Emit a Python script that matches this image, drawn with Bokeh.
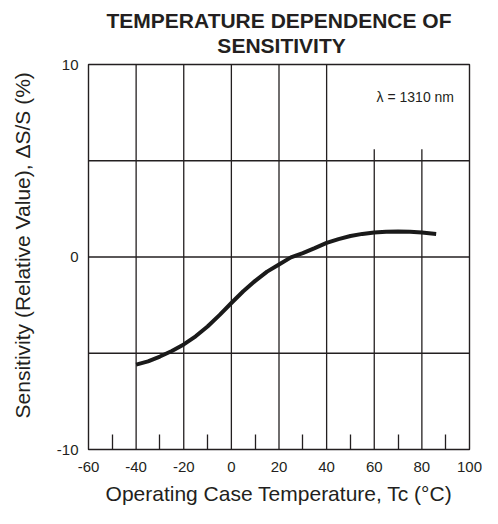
from bokeh.plotting import figure
from bokeh.models import FixedTicker, Range1d
from bokeh.core.properties import value
from bokeh.embed import file_html
from bokeh.resources import INLINE

# ---- data ----
temps = [-40, -35, -30, -25, -20, -15, -10, -5, 0, 5, 10, 15, 20, 25,
         30, 35, 40, 45, 50, 55, 60, 65, 70, 75, 80, 86]
sens = [-5.59, -5.42, -5.17, -4.88, -4.54, -4.12, -3.61, -3.02, -2.39, -1.78,
        -1.24, -0.76, -0.39, -0.02, 0.20, 0.46, 0.73, 0.93, 1.09, 1.20,
        1.27, 1.31, 1.32, 1.31, 1.27, 1.20]

x_ticks = [-60, -40, -20, 0, 20, 40, 60, 80, 100]
x_minor = [-50, -30, -10, 10, 30, 50, 70, 90]
y_ticks = [-10, 0, 10]
v_grid_full = [-40, -20, 0, 20, 40]
v_grid_short = [60, 80]
v_grid_short_top = 5.6
h_grid = [-5, 0, 5]
title_lines = ["TEMPERATURE DEPENDENCE OF", "SENSITIVITY"]
x_label = "Operating Case Temperature, Tc (°C)"
y_label = "Sensitivity (Relative Value), ΔS/S (%)"
note = "λ = 1310 nm"

INK = "#231f20"
FONT = "Liberation Sans"
NBSP = "\u00a0"

p = figure(width=482, height=508,
           x_range=Range1d(-60, 100), y_range=Range1d(-10, 10),
           output_backend="svg", toolbar_location=None,
           min_border_left=88, min_border_right=13,
           min_border_bottom=59, min_border_top=0)

# two-line title; second line padded so that it sits centred under the first
p.title.text = title_lines[0] + "\n" + NBSP * 19 + title_lines[1]
p.title.align = "center"
p.title.text_font = FONT
p.title.text_font_style = "bold"
p.title.text_font_size = "21px"
p.title.text_line_height = 1.1
p.title.text_color = INK
p.title.standoff = 14

p.xgrid.grid_line_color = None
p.ygrid.grid_line_color = None
p.outline_line_color = INK
p.outline_line_width = 1.4
p.outline_line_alpha = 1.0

# grid
p.segment(x0=v_grid_full, y0=[-10] * len(v_grid_full),
          x1=v_grid_full, y1=[10] * len(v_grid_full),
          line_color=INK, line_width=1.3)
p.segment(x0=v_grid_short, y0=[-10] * len(v_grid_short),
          x1=v_grid_short, y1=[v_grid_short_top] * len(v_grid_short),
          line_color=INK, line_width=1.3)
p.segment(x0=[-60] * len(h_grid), y0=h_grid,
          x1=[100] * len(h_grid), y1=h_grid,
          line_color=INK, line_width=1.3)

# curve
p.line(temps, sens, line_color="#1a1a1a", line_width=4)

# note
p.text(x=[93.5], y=[8.3], text=[note], text_align="right",
       text_baseline="middle", text_font=value(FONT),
       text_font_size="14px", text_color=INK)

# x axis
xa = p.xaxis[0]
xa.ticker = FixedTicker(ticks=x_ticks, minor_ticks=x_minor)
xa.major_label_overrides = {t: str(t) for t in x_ticks}
xa.axis_line_color = None
xa.major_tick_in = 0
xa.major_tick_out = 0
xa.minor_tick_in = 15
xa.minor_tick_out = 0
xa.minor_tick_line_color = INK
xa.minor_tick_line_width = 1.3
xa.major_label_standoff = 12
xa.major_label_text_font = FONT
xa.major_label_text_font_size = "15px"
xa.major_label_text_color = INK
xa.axis_label = x_label
xa.axis_label_text_font = FONT
xa.axis_label_text_font_style = "normal"
xa.axis_label_text_font_size = "21px"
xa.axis_label_text_color = INK
xa.axis_label_standoff = 7

# y axis
ya = p.yaxis[0]
ya.ticker = FixedTicker(ticks=y_ticks, minor_ticks=[])
ya.major_label_overrides = {t: str(t) for t in y_ticks}
ya.axis_line_color = None
ya.major_tick_in = 0
ya.major_tick_out = 0
ya.minor_tick_in = 0
ya.minor_tick_out = 0
ya.major_label_standoff = 10
ya.major_label_text_font = FONT
ya.major_label_text_font_size = "15px"
ya.major_label_text_color = INK
ya.axis_label = NBSP * 4 + y_label
ya.axis_label_text_font = FONT
ya.axis_label_text_font_style = "normal"
ya.axis_label_text_font_size = "21px"
ya.axis_label_text_color = INK
ya.axis_label_standoff = 20

open("out.html", "w").write(file_html(p, INLINE))
